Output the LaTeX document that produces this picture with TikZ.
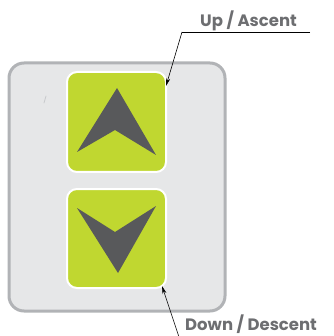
\documentclass[tikz,border=0pt]{standalone}
\usepackage{fontspec}
\setmainfont{Poppins}
\usetikzlibrary{arrows.meta}
\definecolor{panelfill}{HTML}{E6E7E8}
\definecolor{panelborder}{HTML}{B1B3B6}
\definecolor{btngreen}{HTML}{C0D730}
\definecolor{arrowgray}{HTML}{58595B}
\definecolor{labelgray}{HTML}{6D6E71}
\tikzset{
  panel/.style={fill=panelfill,draw=panelborder,line width=3pt,rounded corners=15pt},
  btn/.style={fill=btngreen,draw=white,line width=2pt,rounded corners=10pt},
  chevron/.style={fill=arrowgray,draw=none},
  label/.style={text=labelgray,font=\bfseries\fontsize{16.5}{19}\selectfont,inner sep=0pt,anchor=base west},
  leader/.style={draw=black,line width=0.6pt,-{Stealth[length=8pt,width=4pt]}}
}
\begin{document}
\begin{tikzpicture}[x=1pt,y=-1pt]
\useasboundingbox (0,0) rectangle (333,336);
% panel
\path[panel] (9,63) rectangle (225,311);
\draw[panelborder!70,line width=0.8pt,line cap=round] (44,103) -- (46,96);
% buttons
\path[btn] (67,72) rectangle (166,172);
\path[btn] (67,189) rectangle (166,288);
% chevrons
\path[chevron] (117,88) -- (156,155) -- (115,130) -- (77,152) -- cycle;
\path[chevron] (77,208) -- (115,232) -- (156,206) -- (118,273) -- cycle;
% labels
\node[label] (up) at (200,27) {Up / Ascent};
\node[label] (down) at (185,330) {Down / Descent};
\coordinate (upknee) at (182,32);
\coordinate (upend) at (310,32);
\coordinate (uptip) at (166,86);
\coordinate (downstart) at (179,337);
\coordinate (downtip) at (162,286);
\draw[line width=0.6pt] (upend) -- (upknee);
\draw[leader] (upknee) -- (uptip);
\draw[leader] (downstart) -- (downtip);
\end{tikzpicture}
\end{document}
